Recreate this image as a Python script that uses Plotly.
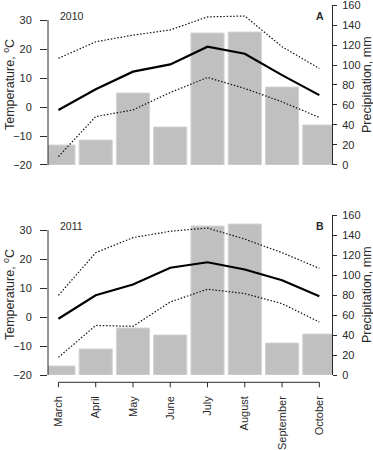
import plotly.graph_objects as go

months = ["March", "April", "May", "June", "July", "August", "September", "October"]

# 2010 (panel A)
precip_2010 = [20, 25, 72, 38, 132, 133, 78, 40]
tmean_2010 = [-1.0, 6.1, 12.2, 14.7, 20.8, 18.4, 11.0, 4.1]
tmax_2010 = [16.8, 22.5, 24.8, 26.6, 31.1, 31.4, 20.8, 13.3]
tmin_2010 = [-17.1, -3.3, -1.0, 5.0, 10.2, 6.4, 1.8, -3.6]

# 2011 (panel B)
precip_2011 = [9, 26, 47, 40, 149, 151, 32, 41]
tmean_2011 = [-0.6, 7.5, 11.2, 17.0, 18.9, 16.4, 12.7, 7.2]
tmax_2011 = [7.5, 22.2, 27.4, 29.6, 30.7, 26.9, 22.2, 16.8]
tmin_2011 = [-13.9, -2.9, -3.2, 5.2, 9.6, 8.1, 4.6, -1.7]

years = ["2010", "2011"]
panel_letters = ["A", "B"]

FONT = "Liberation Sans, Arial, sans-serif"
AX = "#2a2a2a"
BAR = "#c0c0c0"
DOT = "1.5px,1.8px"

fig = go.Figure()

panels = [
    (precip_2010, tmean_2010, tmax_2010, tmin_2010, "x", "y", "y2"),
    (precip_2011, tmean_2011, tmax_2011, tmin_2011, "x2", "y3", "y4"),
]

for pr, tm, tx, tn, xa, yp, yt in panels:
    fig.add_trace(go.Bar(x=months, y=pr, xaxis=xa, yaxis=yp,
                         marker=dict(color=BAR, line=dict(color="#d4d4d4", width=1)),
                         showlegend=False))
    fig.add_trace(go.Scatter(x=months, y=tx, xaxis=xa, yaxis=yt, mode="lines",
                             line=dict(color="#111", width=1.2, dash=DOT), showlegend=False))
    fig.add_trace(go.Scatter(x=months, y=tn, xaxis=xa, yaxis=yt, mode="lines",
                             line=dict(color="#111", width=1.2, dash=DOT), showlegend=False))
    fig.add_trace(go.Scatter(x=months, y=tm, xaxis=xa, yaxis=yt, mode="lines",
                             line=dict(color="#000", width=2.2), showlegend=False))

XR = [-0.28, 7.34]
TR = [-20, 35.2]
PR = [0, 160]
top_dom = [0.5676, 1.0]
bot_dom = [0.0, 0.4324]

prec_ax = dict(range=PR, side="right", tickvals=list(range(0, 161, 20)),
               ticks="outside", ticklen=4, tickcolor=AX, showline=True, linecolor=AX,
               linewidth=1, showgrid=False, zeroline=False, automargin=False,
               ticklabelstandoff=3, ticklabeloverflow="allow",
               tickfont=dict(family=FONT, size=11, color=AX))
temp_ax = dict(range=TR, side="left", tickvals=list(range(-20, 31, 10)),
               ticks="outside", ticklen=7, tickcolor=AX, showline=False,
               showgrid=False, zeroline=False, automargin=False,
               ticklabelstandoff=6, ticklabeloverflow="allow",
               tickfont=dict(family=FONT, size=11, color=AX))

fig.update_layout(
    width=373, height=450,
    margin=dict(l=48, r=41, t=5, b=75),
    plot_bgcolor="white", paper_bgcolor="white",
    bargap=0.11,
    font=dict(family=FONT, color=AX),
    xaxis=dict(range=XR, domain=[0, 1], anchor="y", visible=False, automargin=False),
    xaxis2=dict(range=XR, domain=[0, 1], anchor="y3", showline=False, showgrid=False,
                ticks="", tickangle=-90, ticklabelstandoff=18, automargin=False,
                tickfont=dict(family=FONT, size=11, color=AX)),
    yaxis=dict(domain=top_dom, anchor="x", **prec_ax),
    yaxis2=dict(overlaying="y", anchor="x", **temp_ax),
    yaxis3=dict(domain=bot_dom, anchor="x2", **prec_ax),
    yaxis4=dict(overlaying="y3", anchor="x2", **temp_ax),
)

# Left temperature axis lines (span -20..30 only)
for yt in ["y2", "y4"]:
    fig.add_shape(type="line", xref="paper", x0=0, x1=0, yref=yt, y0=-20, y1=30,
                  line=dict(color=AX, width=1))

# Bottom month axis (offset below plot, spanning first..last month)
y_line = -0.0197
y_tick = -0.0332
fig.add_shape(type="line", xref="x2", x0=0, x1=len(months) - 1, yref="paper",
              y0=y_line, y1=y_line, line=dict(color=AX, width=1))
for i in range(len(months)):
    fig.add_shape(type="line", xref="x2", x0=i, x1=i, yref="paper",
                  y0=y_line, y1=y_tick, line=dict(color=AX, width=1))

# Axis titles
for yc in [(top_dom[0] + top_dom[1]) / 2, (bot_dom[0] + bot_dom[1]) / 2]:
    fig.add_annotation(text="Temperature, <sup>o</sup>C", xref="paper", yref="paper",
                       x=(9 - 48) / 284, y=yc, xanchor="center", yanchor="middle",
                       textangle=-90, showarrow=False,
                       font=dict(family=FONT, size=12.5, color=AX))
    fig.add_annotation(text="Precipitation, mm", xref="paper", yref="paper",
                       x=(367 - 48) / 284, y=yc, xanchor="center", yanchor="middle",
                       textangle=-90, showarrow=False,
                       font=dict(family=FONT, size=12.5, color=AX))

# Year labels and panel letters
for yr, letter, yy in zip(years, panel_letters, [(375 - 16) / 370, (375 - 226) / 370]):
    fig.add_annotation(text=yr, xref="paper", yref="paper", x=(58 - 48) / 284, y=yy,
                       xanchor="left", yanchor="middle", showarrow=False,
                       font=dict(family=FONT, size=10.5, color=AX))
    fig.add_annotation(text="<b>" + letter + "</b>", xref="paper", yref="paper",
                       x=(320 - 48) / 284, y=yy, xanchor="center", yanchor="middle",
                       showarrow=False, font=dict(family=FONT, size=10.5, color=AX))

fig.write_html("out.html", config={"displayModeBar": False},
               post_script="document.body.style.margin='0';document.body.style.overflow='hidden';")
